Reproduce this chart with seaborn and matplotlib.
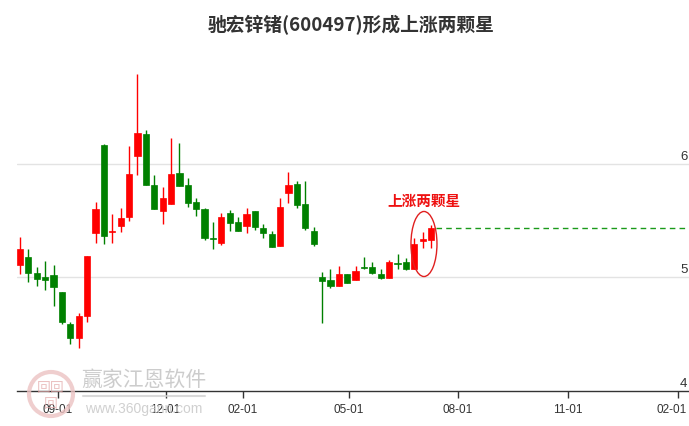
import numpy as np
import pandas as pd
import seaborn as sns
import matplotlib
matplotlib.use("Agg")
import matplotlib.pyplot as plt
from matplotlib.patches import Ellipse
from matplotlib.lines import Line2D
import matplotlib.transforms as mtransforms

# ---- data (weekly candles) ----
opens = [5.108, 5.182, 5.041, 5.000, 5.026, 4.874, 4.589, 4.463, 4.663, 5.394,
         6.166, 5.398, 5.452, 5.531, 6.069, 6.260, 5.819, 5.590, 5.649, 5.922,
         5.813, 5.661, 5.602, 5.352, 5.300, 5.570, 5.491, 5.455, 5.588, 5.438,
         5.382, 5.279, 5.746, 5.822, 5.643, 5.408, 5.000, 4.976, 4.923, 5.029,
         4.976, 5.090, 5.094, 5.029, 4.997, 5.127, 5.138, 5.073, 5.322, 5.329]
highs = [5.359, 5.249, 5.094, 5.144, 5.108, 4.874, 4.610, 4.683, 5.191, 5.661,
         6.172, 5.555, 5.608, 6.160, 6.789, 6.298, 5.907, 5.799, 6.231, 6.189,
         5.872, 5.696, 5.614, 5.485, 5.564, 5.593, 5.535, 5.608, 5.588, 5.467,
         5.412, 5.696, 5.931, 5.848, 5.848, 5.441, 5.044, 5.079, 5.100, 5.029,
         5.100, 5.182, 5.138, 5.079, 5.153, 5.203, 5.176, 5.344, 5.403, 5.461]
lows = [5.035, 4.956, 4.927, 4.888, 4.751, 4.589, 4.410, 4.381, 4.610, 5.300,
        5.291, 5.308, 5.403, 5.496, 5.901, 5.813, 5.599, 5.467, 5.649, 5.808,
        5.623, 5.544, 5.329, 5.249, 5.285, 5.408, 5.408, 5.396, 5.417, 5.352,
        5.270, 5.279, 5.658, 5.608, 5.417, 5.279, 4.598, 4.903, 4.923, 4.953,
        4.976, 5.079, 5.030, 4.990, 4.997, 5.079, 5.064, 5.073, 5.256, 5.264]
closes = [5.249, 5.041, 4.991, 4.974, 4.912, 4.610, 4.469, 4.663, 5.191, 5.599,
          5.367, 5.412, 5.520, 5.916, 6.269, 5.813, 5.599, 5.696, 5.910, 5.808,
          5.655, 5.602, 5.352, 5.340, 5.531, 5.482, 5.408, 5.558, 5.447, 5.388,
          5.270, 5.617, 5.819, 5.637, 5.438, 5.297, 4.967, 4.927, 5.029, 4.953,
          5.059, 5.082, 5.041, 4.997, 5.138, 5.119, 5.079, 5.291, 5.335, 5.438]

tick_pos = [4.48, 17.35, 26.53, 39.2, 52.2, 65.3, 78.4]
tick_labels = ["09-01", "12-01", "02-01", "05-01", "08-01", "11-01", "02-01"]
y_ticks = [4, 5, 6]

title = "驰宏锌锗(600497)形成上涨两颗星"
pattern_label = "上涨两颗星"

UP = "#ff0000"
DOWN = "#008000"

df = pd.DataFrame({"open": opens, "high": highs, "low": lows, "close": closes})
df["idx"] = np.arange(len(df))
df["up"] = df["close"] >= df["open"]
df["bottom"] = df[["open", "close"]].min(axis=1)
df["height"] = (df["close"] - df["open"]).abs().clip(lower=0.012)
df["color"] = np.where(df["up"], UP, DOWN)

sns.set_theme(style="white")
plt.rcParams["font.family"] = ["Noto Sans CJK SC", "DejaVu Sans"]

fig = plt.figure(figsize=(6.89, 4.27), dpi=100)
ax = fig.add_axes([17 / 689, 1 - 392 / 427, (689 - 17) / 689, (392 - 51) / 427])

# grid lines
for v in y_ticks[1:]:
    ax.axhline(v, color="#e3e3e3", lw=1, zorder=0)

# wicks
ax.vlines(df["idx"], df["low"], df["high"], colors=df["color"], lw=1, zorder=2)
# bodies
ax.bar(df["idx"], df["height"], bottom=df["bottom"], width=0.74,
       color=df["color"], edgecolor=df["color"], linewidth=0.5, zorder=3)

# dashed line at last close
last = len(df) - 1
ax.hlines(closes[-1], last + 0.6, 80, colors="#1a9a1a", linestyles=(0, (4, 3)), lw=1, zorder=2)

# highlight ellipse and label
ax.add_patch(Ellipse((48.15, 5.295), 3.1, 0.573, fill=False, edgecolor="#e02020", lw=1, zorder=4))
ax.text(48.1, 5.685, pattern_label, color="#ee1111", fontsize=10.5, fontweight="bold",
        ha="center", va="center", zorder=5)

ax.set_xlim(-0.3576, 79.74)
ax.set_ylim(4, 7.004)
ax.set_xticks(tick_pos)
ax.set_xticklabels(tick_labels, family=["Liberation Sans", "DejaVu Sans"], fontsize=8.5, color="#333333")
ax.tick_params(axis="x", direction="out", length=5, width=1, color="#333333", pad=4, bottom=True)
lbls = ax.get_xticklabels()
lbls[-1].set_horizontalalignment("right")
lbls[-1].set_transform(lbls[-1].get_transform() + mtransforms.ScaledTranslation(9 / 100, 0, fig.dpi_scale_trans))
ax.set_yticks([])
sns.despine(ax=ax, left=True, top=True, right=True)
ax.spines["bottom"].set_color("#333333")
ax.spines["bottom"].set_linewidth(1)

# y labels inside on the right
trans = mtransforms.blended_transform_factory(ax.transAxes, ax.transData)
for v in y_ticks:
    ax.text(0.9975, v + 0.02, str(v), transform=trans, ha="right", va="bottom",
            fontsize=9.5, color="#333333", family=["Liberation Sans", "DejaVu Sans"])

# title
fig.text(351 / 689, 1 - 25 / 427, title, ha="center", va="center", fontsize=13.5,
         fontweight="bold", color="#333333")

# watermark
fig.patches.append(Ellipse((51 / 689, 1 - 395 / 427), 44 / 689, 44 / 427, transform=fig.transFigure,
                           fill=False, edgecolor="#ecc2c2", lw=3, alpha=0.8, zorder=10))
fig.text(51 / 689, 1 - 388 / 427, "回回", ha="center", va="center", fontsize=10,
         color="#e3a9a9", alpha=0.7, zorder=10)
fig.text(51 / 689, 1 - 404 / 427, "回", ha="center", va="center", fontsize=10,
         color="#e3a9a9", alpha=0.7, zorder=10)
fig.text(144 / 689, 1 - 380 / 427, "赢家江恩软件", ha="center", va="center", fontsize=15,
         color="#c4c4c4", alpha=0.85, zorder=10)
fig.lines.append(Line2D([83 / 689, 205 / 689], [1 - 397 / 427, 1 - 397 / 427],
                        transform=fig.transFigure, color="#d0d0d0", lw=1.5, alpha=0.8, zorder=10))
fig.text(144 / 689, 1 - 409 / 427, "www.360gann.com", ha="center", va="center", fontsize=10,
         color="#c8c8c8", alpha=0.85, zorder=10, family=["Liberation Sans", "DejaVu Sans"])

fig.savefig("out.png", dpi=100, facecolor="white")
